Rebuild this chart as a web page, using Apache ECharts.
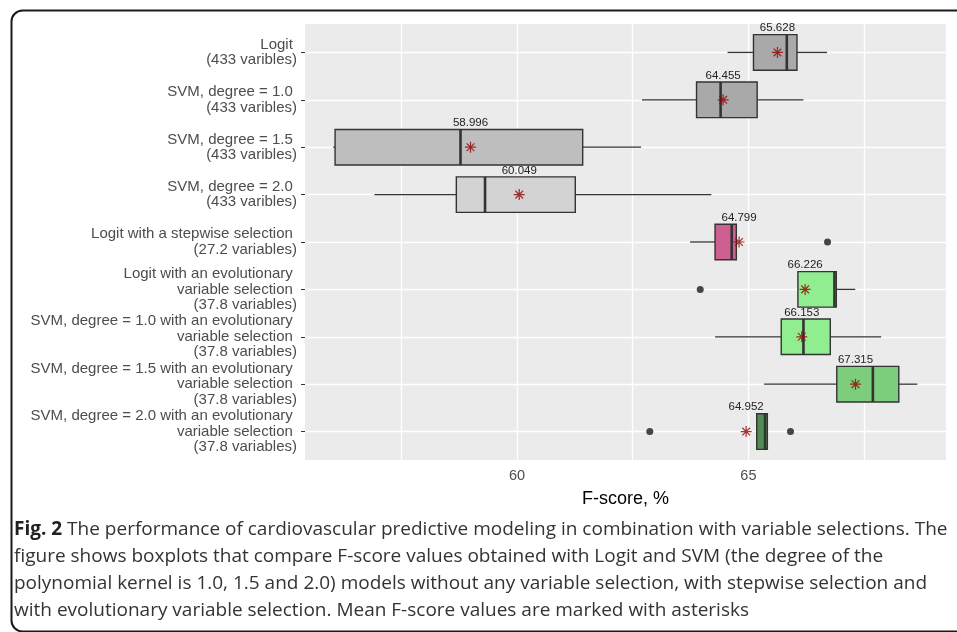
<!DOCTYPE html>
<html><head><meta charset="utf-8">
<script src="https://cdn.jsdelivr.net/npm/echarts@6/dist/echarts.min.js"></script>
<style>html,body{margin:0;padding:0;background:#fff}#c{width:957px;height:632px}</style>
</head><body><div id="c"></div>
<script>
// ---- data ----
const categories = [
  'Logit \n(433 varibles)',
  'SVM, degree = 1.0 \n(433 varibles)',
  'SVM, degree = 1.5 \n(433 varibles)',
  'SVM, degree = 2.0 \n(433 varibles)',
  'Logit with a stepwise selection \n(27.2 variables)',
  'Logit with an evolutionary \nvariable selection \n(37.8 variables)',
  'SVM, degree = 1.0 with an evolutionary \nvariable selection \n(37.8 variables)',
  'SVM, degree = 1.5 with an evolutionary \nvariable selection \n(37.8 variables)',
  'SVM, degree = 2.0 with an evolutionary \nvariable selection \n(37.8 variables)'
];
const whiskerLow  = [64.55, 62.70, 56.03, 56.92, 63.74, 66.07, 64.28, 65.34, 65.18];
const q1          = [65.11, 63.88, 56.07, 58.69, 64.28, 66.07, 65.71, 66.91, 65.18];
const median      = [65.83, 64.40, 58.78, 59.31, 64.64, 66.86, 66.19, 67.69, 65.36];
const q3          = [66.05, 65.19, 61.42, 61.26, 64.74, 66.90, 66.77, 68.25, 65.41];
const whiskerHigh = [66.70, 66.19, 62.68, 64.20, 64.74, 67.31, 67.87, 68.65, 65.41];
const means       = [65.628, 64.455, 58.996, 60.049, 64.799, 66.226, 66.153, 67.315, 64.952];
const meanLabels  = ['65.628', '64.455', '58.996', '60.049', '64.799', '66.226', '66.153', '67.315', '64.952'];
const outlierValues = [66.71, 63.96, 62.87, 65.91];
const outlierGroups = [4, 5, 8, 8];
const xTickValues = [60, 65];
const xGridValues = [57.5, 60, 62.5, 65, 67.5];
const captionLines = [
  '{b|Fig. 2} The performance of cardiovascular predictive modeling in combination with variable selections. The',
  'figure shows boxplots that compare F-score values obtained with Logit and SVM (the degree of the',
  'polynomial kernel is 1.0, 1.5 and 2.0) models without any variable selection, with stepwise selection and',
  'with evolutionary variable selection. Mean F-score values are marked with asterisks'
];
// ---- styles ----
const fillColors = ['#A9A9A9', '#A9A9A9', '#BEBEBE', '#D3D3D3', '#CD6090', '#90EE90', '#90EE90', '#7CCD7C', '#548B54'];

const chart = echarts.init(document.getElementById('c'), null, {renderer: 'canvas'});
const idx = categories.map((c, i) => i);
const boxData = idx.map(i => [i, whiskerLow[i], q1[i], median[i], q3[i], whiskerHigh[i], means[i]]);
const lineCol = '#333333';
const axisFont = 'Liberation Sans, Arial, sans-serif';

const option = {
  animation: false,
  grid: {left: 305, right: 11, top: 24, bottom: 172, show: true, backgroundColor: '#EBEBEB', borderWidth: 0},
  xAxis: {
    type: 'value', min: 55.42, max: 69.27,
    splitLine: {show: false}, axisLine: {show: false},
    axisTick: {show: true, length: 4, lineStyle: {color: lineCol, width: 1}, customValues: xTickValues},
    axisLabel: {customValues: xTickValues, color: '#4D4D4D', fontSize: 14.5, fontFamily: axisFont, margin: 8},
    name: 'F-score, %', nameLocation: 'middle', nameGap: 30,
    nameTextStyle: {color: '#000', fontSize: 18, fontFamily: axisFont}
  },
  yAxis: {
    type: 'value', min: -0.6, max: 8.6, inverse: true,
    splitLine: {show: false}, axisLine: {show: false},
    axisTick: {show: true, length: 4, lineStyle: {color: lineCol, width: 1}, customValues: idx},
    axisLabel: {customValues: idx, formatter: v => categories[Math.round(v)], color: '#4D4D4D',
      fontSize: 15, lineHeight: 15.5, fontFamily: axisFont, margin: 8, align: 'right'}
  },
  graphic: [
    {type: 'rect', left: 9, top: 8, shape: {x: 0, y: 0, width: 1000, height: 621, r: 11},
     style: {fill: 'none', stroke: '#1a1a1a', lineWidth: 2}, silent: true, z: 100}
  ].concat(captionLines.map((t, k) => ({
    type: 'text', left: 14, top: 520 + k * 27, silent: true,
    style: {text: t, fill: '#333', font: '19px "Open Sans"', rich: {b: {fontWeight: 'bold', fontSize: 19, fontFamily: 'Open Sans', fill: '#222'}}}
  }))),
  series: [
    {
      type: 'line', data: [], z: 1, silent: true,
      markLine: {
        z: 1, silent: true, symbol: ['none', 'none'], label: {show: false}, animation: false,
        lineStyle: {color: '#FFFFFF', width: 1.3, type: 'solid'},
        data: xGridValues.map(v => ({xAxis: v})).concat(idx.map(i => ({yAxis: i})))
      }
    },
    {
      type: 'custom', z: 3, data: boxData,
      encode: {x: [1, 2, 3, 4, 5, 6], y: 0},
      renderItem: function (params, api) {
        const i = api.value(0);
        const pLo = api.coord([api.value(1), i]);
        const pQ1 = api.coord([api.value(2), i]);
        const pMed = api.coord([api.value(3), i]);
        const pQ3 = api.coord([api.value(4), i]);
        const pHi = api.coord([api.value(5), i]);
        const pMean = api.coord([api.value(6), i]);
        const y = pMed[1];
        const half = Math.abs(api.size([0, 1])[1]) * 0.375;
        return {
          type: 'group', children: [
            {type: 'line', shape: {x1: pLo[0], y1: y, x2: pQ1[0], y2: y}, style: {stroke: lineCol, lineWidth: 1.3}},
            {type: 'line', shape: {x1: pQ3[0], y1: y, x2: pHi[0], y2: y}, style: {stroke: lineCol, lineWidth: 1.3}},
            {type: 'rect', shape: {x: pQ1[0], y: y - half, width: pQ3[0] - pQ1[0], height: 2 * half},
             style: {fill: fillColors[i], stroke: lineCol, lineWidth: 1.4}},
            {type: 'line', shape: {x1: pMed[0], y1: y - half, x2: pMed[0], y2: y + half}, style: {stroke: lineCol, lineWidth: 2.6}},
            {type: 'text', style: {text: meanLabels[i], x: pMean[0], y: y - half - 0.5, textAlign: 'center',
              textVerticalAlign: 'bottom', fill: '#222', font: '11.5px Liberation Sans, Arial'}}
          ]
        };
      }
    },
    {
      type: 'scatter', z: 4, silent: true, symbol: 'circle', symbolSize: 7,
      itemStyle: {color: '#1a1a1a'},
      data: outlierValues.map((v, k) => [v, outlierGroups[k]])
    },
    {
      type: 'scatter', z: 5, silent: true,
      symbol: 'path://M5,0L5,10M0,5L10,5M1.5,1.5L8.5,8.5M1.5,8.5L8.5,1.5', symbolSize: 11,
      itemStyle: {color: 'rgba(0,0,0,0)', borderColor: '#990000', borderWidth: 1.2},
      data: means.map((m, i) => [m, i])
    }
  ]
};
chart.setOption(option);
</script>
</body></html>
